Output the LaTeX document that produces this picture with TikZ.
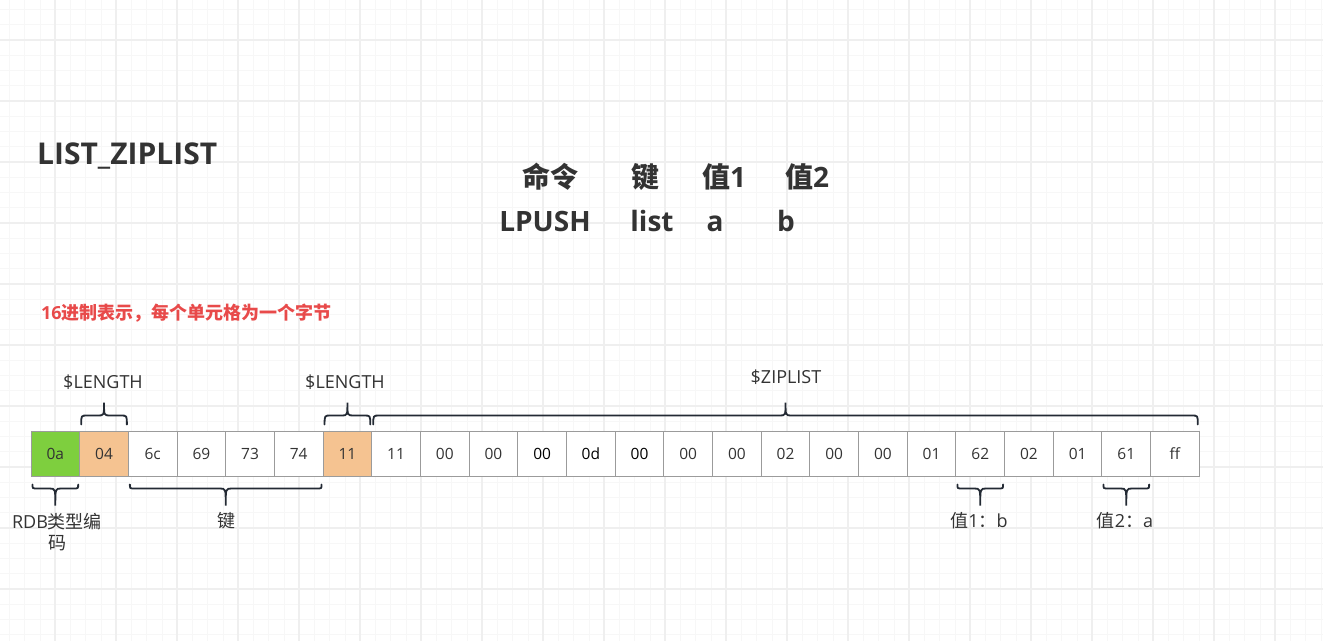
\documentclass[tikz,border=0pt]{standalone}
\usepackage{fontspec}
\setmainfont{Open Sans}
\newfontfamily\cjkfont{Noto Sans CJK SC}
\newcommand{\zhtext}[1]{{\cjkfont #1}}
\usetikzlibrary{calc,positioning}
\definecolor{ink}{RGB}{51,51,51}
\definecolor{bracedark}{RGB}{35,42,52}
\definecolor{cellgray}{RGB}{155,155,155}
\definecolor{typegreen}{RGB}{126,207,62}
\definecolor{lenorange}{RGB}{245,195,145}
\definecolor{hintred}{RGB}{232,74,74}
\definecolor{gridminor}{RGB}{247,247,247}
\definecolor{gridmajor}{RGB}{239,239,239}

% curly bracket above / below a run of cells
\newcommand{\upbrace}[2]{%
  \draw[brace] let \p1=($(#1)+(2pt,6pt)$), \p2=($(#2)+(-2pt,6pt)$),
      \n1={0.5*(\x1+\x2)} in
    (\p1) .. controls (\x1,\y1+9pt) .. (\x1+6pt,\y1+9pt) -- (\n1-6pt,\y1+9pt)
    .. controls (\n1,\y1+9pt) .. (\n1,\y1+22pt)
    .. controls (\n1,\y1+9pt) .. (\n1+6pt,\y1+9pt) -- (\x2-6pt,\y1+9pt)
    .. controls (\x2,\y1+9pt) .. (\p2);}
\newcommand{\downbrace}[2]{%
  \draw[brace] let \p1=($(#1)+(2pt,-8pt)$), \p2=($(#2)+(-2pt,-8pt)$),
      \n1={0.5*(\x1+\x2)} in
    (\p1) .. controls (\x1,\y1-4pt) .. (\x1+5pt,\y1-4pt) -- (\n1-6pt,\y1-4pt)
    .. controls (\n1,\y1-4pt) .. (\n1,\y1-21pt)
    .. controls (\n1,\y1-4pt) .. (\n1+6pt,\y1-4pt) -- (\x2-5pt,\y1-4pt)
    .. controls (\x2,\y1-4pt) .. (\p2);}

\begin{document}
\begin{tikzpicture}[
  x=1pt,y=-1pt,
  cell/.style={draw=cellgray,line width=1pt,minimum width=48.68pt,
               minimum height=45pt,inner sep=0pt,
               font=\fontsize{15.5}{18}\selectfont},
  brace/.style={draw=bracedark,line width=1.8pt,line cap=round},
  lbl/.style={text=ink,inner sep=0pt,align=center,
              font=\fontsize{18}{21.5}\selectfont},
  title/.style={text=ink,inner sep=0pt,text height=0.8em,text depth=0.2em,
                font=\fontsize{28}{32}\selectfont\bfseries},
  hint/.style={text=hintred,inner sep=0pt,
               font=\fontsize{18}{21}\selectfont\bfseries}
]
\useasboundingbox (0,0) rectangle (1323,641);
\fill[white] (0,0) rectangle (1323,641);

% background grid
\foreach \j in {0,...,86}
  \draw[gridminor,line width=1pt] ({9.7+15.25*\j},0) -- ({9.7+15.25*\j},641);
\foreach \j in {0,...,41}
  \draw[gridminor,line width=1pt] (0,{9.3+15.25*\j}) -- (1323,{9.3+15.25*\j});
\foreach \k in {-1,...,21}
  \draw[gridmajor,line width=1.2pt] ({55+61*\k},0) -- ({55+61*\k},641);
\foreach \k in {-1,...,10}
  \draw[gridmajor,line width=1.2pt] (0,{40+61*\k}) -- (1323,{40+61*\k});

% headings
\node[title,anchor=west,font=\fontsize{30}{34}\selectfont\bfseries]
  (head) at (37,161) {LIST\_ZIPLIST};
\node[title] (hcmd)  at (550,184) {\zhtext{命令}};
\node[title] (hkey)  at (645,184) {\zhtext{键}};
\node[title] (hval1) at (724,184) {\zhtext{值}1};
\node[title] (hval2) at (807,184) {\zhtext{值}2};
\node[title] (acmd)  at (545,228) {LPUSH};
\node[title] (akey)  at (652,228) {list};
\node[title] (aval1) at (715,228) {a};
\node[title] (aval2) at (786,228) {b};

\node[hint,anchor=west] (note) at (41,313)
  {16\zhtext{进制表示，每个单元格为一个字节}};

% the bytes, one cell each
\foreach \v/\f/\t [count=\i] in {0a/typegreen/ink,04/lenorange/ink,
    6c/white/ink,69/white/ink,73/white/ink,74/white/ink,11/lenorange/ink,
    11/white/ink,00/white/ink,00/white/ink,00/white/black,0d/white/black,
    00/white/black,00/white/ink,00/white/ink,02/white/ink,00/white/ink,
    00/white/ink,01/white/ink,62/white/ink,02/white/ink,01/white/ink,
    61/white/ink,ff/white/ink}
  \node[cell,fill=\f,text=\t] (c\i) at ({31+48.68*(\i-0.5)},453.5) {\v};

% brackets above
\upbrace{c2.north west}{c2.north east}
\node[lbl] (lenA) at (103,382) {\$LENGTH};
\upbrace{c7.north west}{c7.north east}
\node[lbl] (lenB) at (345,382) {\$LENGTH};
\upbrace{c8.north west}{c24.north east}
\node[lbl] (zip) at (786,377) {\$ZIPLIST};

% brackets below
\downbrace{c1.south west}{c1.south east}
\node[lbl] (rdb) at (57,532) {RDB\zhtext{类型编}\\\zhtext{码}};
\downbrace{c3.south west}{c6.south east}
\node[lbl] (key) at (226,521) {\zhtext{键}};
\downbrace{c20.south west}{c20.south east}
\node[lbl] (val1) at (979,521) {\zhtext{值}1\zhtext{：}b};
\downbrace{c23.south west}{c23.south east}
\node[lbl] (val2) at (1125,521) {\zhtext{值}2\zhtext{：}a};

\end{tikzpicture}
\end{document}
